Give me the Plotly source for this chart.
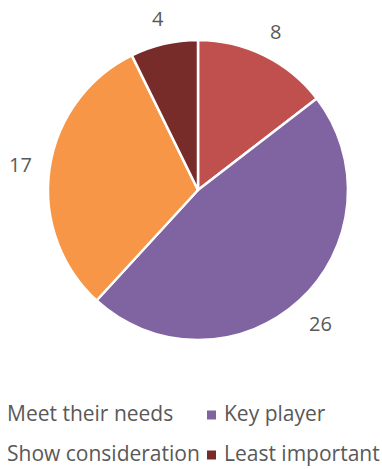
import math
import plotly.graph_objects as go

# Stakeholder groups and counts, clockwise from 12 o'clock
categories = ["Meet their needs", "Key player", "Show consideration", "Least important"]
counts = [8, 26, 17, 4]
colors = ["#c0504d", "#8064a2", "#f79646", "#772c2a"]

W, H = 382, 469
FONT = "Open Sans"
TEXT_GRAY = "#595959"

# Pie occupies a 300px square centred at (198, 190)
cx, cy, r = 198, 190, 150
dom_x = [(cx - r) / W, (cx + r) / W]
dom_y = [1 - (cy + r) / H, 1 - (cy - r) / H]


def px(x):
    return x / W


def py(y):
    return 1 - y / H


fig = go.Figure(
    go.Pie(
        labels=categories,
        values=counts,
        sort=False,
        direction="clockwise",
        rotation=0,
        marker=dict(colors=colors, line=dict(color="white", width=2.5)),
        textinfo="none",
        hoverinfo="label+value",
        showlegend=False,
        domain=dict(x=dom_x, y=dom_y),
    )
)

# Value labels sit just outside the rim, on each slice's mid-angle
annotations = []
total = sum(counts)
cum = 0
for v in counts:
    mid = (cum + v / 2) / total * 2 * math.pi
    cum += v
    s, c = math.sin(mid), math.cos(mid)
    half_w, half_h = 6 * len(str(v)), 9
    dist = r + 16 + half_w * abs(s) + half_h * abs(c)
    annotations.append(
        dict(
            x=px(cx + dist * s),
            y=py(cy - dist * c),
            xref="paper",
            yref="paper",
            text=str(v),
            showarrow=False,
            xanchor="center",
            yanchor="middle",
            font=dict(family=FONT, size=20, color=TEXT_GRAY),
        )
    )

# Two-column legend beneath the pie
col_text_x = [8, 225]
row_y = [413, 453]
marker_size = 9
shapes = []
for i, (name, col) in enumerate(zip(categories, colors)):
    tx = col_text_x[i % 2]
    ty = row_y[i // 2]
    annotations.append(
        dict(
            x=px(tx - 1),
            y=py(ty),
            xref="paper",
            yref="paper",
            text=name,
            showarrow=False,
            xanchor="left",
            yanchor="middle",
            borderpad=0,
            borderwidth=0,
            font=dict(family=FONT, size=21, color=TEXT_GRAY),
        )
    )
    mx1 = tx - 9
    shapes.append(
        dict(
            type="rect",
            xref="paper",
            yref="paper",
            x0=px(mx1 - marker_size),
            x1=px(mx1),
            y0=py(ty + 2 + marker_size / 2),
            y1=py(ty + 2 - marker_size / 2),
            fillcolor=col,
            line=dict(width=0),
        )
    )

fig.update_layout(
    width=W,
    height=H,
    margin=dict(l=0, r=0, t=0, b=0),
    paper_bgcolor="white",
    plot_bgcolor="white",
    font=dict(family=FONT, color=TEXT_GRAY),
    annotations=annotations,
    shapes=shapes,
)

fig.write_html("out.html")
